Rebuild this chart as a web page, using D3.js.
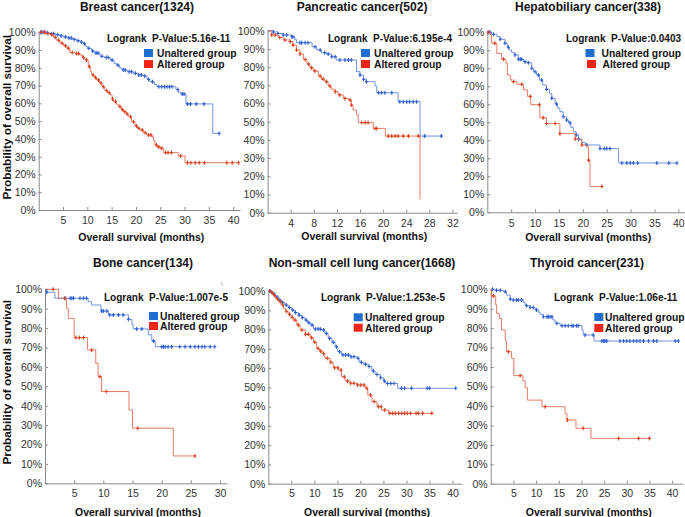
<!DOCTYPE html>
<html><head><meta charset="utf-8">
<script src="https://cdn.jsdelivr.net/npm/d3@7/dist/d3.min.js"></script>
<style>
html,body{margin:0;padding:0;background:#fff;}
svg{display:block;font-family:"Liberation Sans",Arial,sans-serif;}
</style></head>
<body>
<svg id="chart" width="685" height="517"></svg>
<script>
// ---------------- DATA ----------------
const panelTitles = ["Breast cancer(1324)","Pancreatic cancer(502)","Hepatobiliary cancer(338)",
                     "Bone cancer(134)","Non-small cell lung cancer(1668)","Thyroid cancer(231)"];
const pValues = ["5.16e-11","6.195e-4","0.0403","1.007e-5","1.253e-5","1.06e-11"];
const legendLabels = ["Unaltered group","Altered group"];
const yTicks = [0,10,20,30,40,50,60,70,80,90,100];
const xTicks1 = [5,10,15,20,25,30,35,40];
const xTicks2 = [4,8,12,16,20,24,28,32];
const xTicks3 = [5,10,15,20,25,30,35,40];
const xTicks4 = [5,10,15,20,25,30];
const xTicks5 = [5,10,15,20,25,30,35,40];
const xTicks6 = [5,10,15,20,25,30,35,40];

// Breast
const breastUnaltSteps = [[0,100],[1.5,99.6],[2.3,99.2],[3.5,98.6],[4.5,98],[5.1,97.4],[6,96.8],[7,96],[7.8,95.3],[8.5,94.5],[9.2,93.6],[9.7,92],[10,91],[10.9,89.5],[11.5,88.3],[12.6,86.5],[13.5,85.8],[14.7,84.4],[15.5,82.5],[16,81.5],[16.6,80],[17.1,78.8],[18.2,77.8],[19.5,76.9],[20.5,76],[21.5,75.4],[22.3,73.5],[22.9,72.2],[23.8,70.5],[24.3,69.4],[28.2,67.8],[28.7,66.2],[29.2,65.3],[30.3,59.7],[35.8,43.1]];
const breastUnaltEnd = 37.1;
const breastUnaltCensor = [0.4,0.9,1.3,1.8,2.6,3.1,3.9,4.6,5.5,6.2,6.7,7.3,8.1,8.8,9.4,10.3,11.1,11.8,12.2,13,13.9,14.3,15.1,16.3,17.4,17.8,18.6,19.1,19.9,20.6,21.1,21.8,22.6,23.4,24.7,25.3,25.9,26.4,26.9,27.4,28.6,29.5,29.9,30.6,31.2,32.4,34,37.1];
const breastAltSteps = [[0,100],[1.5,99.3],[2.3,98.7],[3,97.2],[3.7,95.5],[4.4,93.8],[5.1,92.5],[5.8,91],[6.4,88.6],[7.5,88],[8.5,87.2],[9,85.8],[9.5,84.4],[10.2,80.7],[10.6,78],[10.9,76],[11.4,74.5],[11.9,73.2],[12.5,71.5],[13,69.4],[13.6,67.2],[14.2,66],[14.7,64.7],[15.1,62.5],[15.4,61],[16,59.5],[16.4,58.2],[17,56.5],[17.4,55.3],[18,54],[18.5,52.5],[19.1,49.7],[19.8,47.3],[20.3,46],[20.8,45],[21.5,43.5],[22.2,42.2],[23.3,41.3],[23.6,39],[23.9,36.6],[24.4,35.5],[25,34.7],[25.7,32.3],[28.7,30.4],[30.1,26.6]];
const breastAltEnd = 41.1;
const breastAltCensor = [0.6,1.2,1.9,2.7,3.4,4.1,4.8,5.5,6.1,6.9,7.8,8.2,9.2,9.8,10.4,11.2,11.7,12.3,12.8,13.3,14,14.5,15.2,15.8,16.7,17.2,17.7,18.2,18.9,19.5,20.1,20.6,21.3,21.9,22.6,23.1,24.2,24.7,25.3,26.1,26.6,27.3,29.2,30.6,31.3,32.2,33,34.1,38.7,39.8,41.1];

// Pancreatic
const pancUnaltSteps = [[0,100],[1,99.3],[1.8,98.5],[2.7,97.6],[4.2,96.7],[4.7,95.2],[5,93.4],[7.7,91.2],[8.5,89.4],[9.3,87.9],[10.2,87.2],[11.1,85.7],[11.9,83.9],[15.4,77.5],[16,75.6],[16.6,73.3],[17.1,72],[18.6,69.6],[18.9,65.9],[22.6,61],[26.4,42.1]];
const pancUnaltEnd = 30.1;
const pancUnaltCensor = [1,1.8,2.7,3.3,4.2,4.4,5.6,5.9,6.5,7,8.2,9.1,9.9,10.5,11.1,11.7,12.5,13.4,14,14.5,16,16.6,17.1,19.2,19.7,20.3,21.5,22.9,23.5,24.1,24.6,25.2,25.8,27.2,30.1];
const pancAltSteps = [[0,100],[0.7,97.6],[1.8,96.3],[2.7,94.9],[3.9,94],[4.4,92.1],[5,89.4],[5.6,87.2],[6.2,84.2],[6.8,81.7],[7.3,79.7],[7.9,77.8],[8.8,75.1],[9.3,73.4],[9.9,72],[10.5,69.6],[11,67.8],[11.7,66.5],[12.2,64.7],[13.1,62.8],[14,61.9],[14.5,59.2],[14.8,56.4],[15.4,53.7],[15.7,49.5],[18.3,46.3],[20.4,42.1],[26.4,7.3]];
const pancAltEnd = 26.4;
const pancAltCensor = [0.7,1.3,2.1,3,3.9,4.4,5,5.6,6.5,7.1,7.6,8.2,9.1,9.6,10.2,10.8,11.7,12.5,13.4,14.3,14.5,16.3,16.9,17.4,18.6,18.9,20.9,21.5,22.1,22.6,23.5,24.4,26.1];

// Hepatobiliary
const hepUnaltSteps = [[0,100],[0.9,98.9],[2,97.6],[2.7,96.1],[3.7,93.9],[4.2,91.7],[4.6,90.2],[5.1,88.7],[5.8,87.4],[6.5,85],[7.6,83.7],[8.3,83.1],[9.3,80],[9.7,78.1],[10.3,76.3],[10.9,73.5],[11.6,70.7],[12.4,68.3],[13,66.1],[13.5,63.3],[14.2,60.2],[14.7,57.8],[15.2,55.9],[15.9,53.1],[16.6,51.3],[17,49.8],[17.5,47.2],[18,44.8],[18.6,43],[19.1,40.6],[19.8,38.7],[20.5,37.4],[23.6,35.4],[27.5,27.4]];
const hepUnaltEnd = 39.7;
const hepUnaltCensor = [0.2,0.6,1.3,2.7,3.7,4.4,5.8,6.5,6.9,7.2,7.9,8.6,9.3,10,10.7,11.4,12.4,13.5,14.5,15.9,16.6,17.3,18.6,19.1,20.8,23.6,24.5,25,25.7,28.2,29.2,29.9,30.6,31.5,35.5,38,39.7];
const hepAltSteps = [[0,100],[0.6,98.5],[0.9,93.9],[2,88.3],[3,85],[3.9,82.8],[4.2,76.3],[4.8,73.9],[5.1,72.6],[6.2,71.1],[7.6,68.1],[8.4,64.4],[9.1,59.8],[11,52.5],[12.4,49.3],[15.2,43.7],[18.4,40.7],[19.8,37.4],[20.8,36.3],[21.2,29],[21.5,14.3]];
const hepAltEnd = 24;
const hepAltCensor = [0.2,1.6,3.4,5.5,7.2,9,10.9,11.7,12.4,14.2,15.2,18.4,19.8,21.2,24];

// Bone
const boneUnaltSteps = [[0,100],[0.3,98.5],[1.7,95.4],[7.4,93.6],[8,91.9],[9.6,88.8],[10.9,86.8],[14.3,84.5],[14.9,81.9],[15.1,79.6],[17.7,76.5],[18.3,73.4],[18.9,70.4]];
const boneUnaltEnd = 29.1;
const boneUnaltCensor = [0.3,3.4,4.3,4.6,4.9,6,6.6,7.1,9.7,10,10.6,11.1,11.7,12.6,13.4,14.3,15.7,16.6,18.6,20,20.3,20.6,21.1,21.7,23.1,24,24.9,25.7,26.3,26.9,27.4,28.3,29.1];
const boneAltSteps = [[0,100],[2.3,95.4],[3.7,90.2],[4,85],[5,75.1],[7.3,68.7],[8.7,61.9],[9.1,55],[9.7,47.3],[14.4,37.8],[15,28.4],[22,14.1]];
const boneAltEnd = 25.7;
const boneAltCensor = [1.4,3.4,5.3,5.9,6.6,8,9.4,10.5,15.9,25.7];

// Non-small cell lung
const lungUnaltSteps = [[0,100],[0.5,99.3],[1.1,98.3],[1.6,96.8],[2.2,95.3],[2.9,94],[3.6,92.7],[4.3,91.4],[5.1,90.1],[5.8,88.8],[6.5,87.5],[7.2,86.2],[8,84.9],[8.5,83.6],[9.1,82.4],[9.8,80.3],[11.6,79.8],[12.3,78],[13,75.4],[13.8,73.4],[14.5,71.1],[15.1,68.5],[15.9,66.8],[17.8,65.9],[19.2,65.1],[19.7,63],[20.7,62],[21.7,60.8],[22.5,58.5],[23.2,56.7],[24.3,55],[25,53.3],[25.5,52],[28.1,49.5]];
const lungUnaltEnd = 40.7;
const lungUnaltCensor = [0.3,0.7,1.3,1.9,2.5,3.1,3.9,4.6,5.3,5.9,6.7,7.4,8.2,8.8,9.5,10.2,10.8,11.3,12,12.6,13.3,14.1,14.8,15.5,16.2,16.8,17.4,18,18.6,19.5,20.2,21.1,21.9,22.8,23.6,24.4,25.2,25.9,26.6,27.3,28.9,29.6,31.1,34.5,35,40.7];
const lungAltSteps = [[0,100],[0.5,99],[1.1,97.6],[1.6,96],[2.2,94.5],[2.8,92.7],[3.3,91],[3.8,89.5],[4.3,87.9],[4.9,86.4],[5.4,84.9],[6.2,82.4],[6.9,79.8],[8,77.5],[9.1,75.8],[9.8,73.4],[10.5,70.2],[11.1,68.8],[11.6,67.6],[12.3,65.1],[13.4,63],[14.1,60.2],[15.2,59],[15.9,55.5],[16.7,53.3],[17.8,52.1],[19.2,51.2],[21,49.5],[21.6,46],[22.5,42.6],[23.6,40],[24.6,38.2],[26.1,36.5]];
const lungAltEnd = 35.5;
const lungAltCensor = [0.4,0.9,1.4,2,2.6,3.2,3.9,4.6,5.2,5.8,6.5,7.3,8.1,8.7,9.4,10.1,10.8,11.4,12,12.8,13.6,14.4,15.1,15.8,16.5,17.2,17.9,18.6,19.4,20.1,20.8,21.4,22.2,23,23.9,24.5,25.3,26.4,27,27.6,28.3,29,29.6,30.2,30.9,32.1,32.6,33.5,35.5];

// Thyroid
const thyUnaltSteps = [[0,100],[0.9,99.5],[2.8,98.8],[3.5,97],[4.3,95],[4.6,94.5],[7.2,93.3],[7.6,91.6],[8.7,90.6],[9.8,89.4],[10.5,88.2],[10.9,87.1],[11.6,85.9],[13.7,84.2],[14.2,82.5],[15.3,81.3],[20.1,79.1],[20.4,76.5],[22.8,73.4]];
const thyUnaltEnd = 41.4;
const thyUnaltCensor = [0.4,1.3,2.1,3.2,4.3,5,5.7,6.1,6.8,7.9,8.7,9.4,10.1,11.6,12.4,12.7,13.1,13.5,14.6,15.7,16.4,17.1,17.9,18.2,18.9,19.3,20.8,22.6,24.5,24.9,25.2,25.6,28.5,29.3,30,30.7,31.5,32.2,32.9,33.7,34.8,35.9,36.6,40.7,41.4];
const thyAltSteps = [[0,100],[0.2,96.6],[1.1,92],[1.3,87.6],[1.9,85],[2.4,79.1],[3.2,73.4],[3.5,67.9],[4.6,64.5],[5.1,55.6],[7.1,52.8],[7.6,49.4],[8.1,43],[11.3,39.6],[16.4,36.2],[16.8,32.8],[18.8,28.5],[22.1,23.3]];
const thyAltEnd = 35;
const thyAltCensor = [0.6,3.9,6.5,12,16.9,20.4,28.2,32.6,35];

// ---------------- LAYOUT (positions only) ----------------
const frames = [
 {x0:38.7, x1:240, yT:32.3, yB:210, xmax:41.4, tX:137, tY:10.5, lrX:107, lrY:41.5, sqX:[144,144], txX:[157,157], legY:[53,64], axY:241},
 {x0:267.6,x1:457, yT:30.7, yB:212.7,xmax:32.8, tX:362, tY:10.5, lrX:328, lrY:41.5, sqX:[361,361], txX:[374,374], legY:[53,64], axY:240},
 {x0:487.3,x1:685, yT:32.3, yB:212.3,xmax:41.4, tX:588, tY:10.5, lrX:566, lrY:41.5, sqX:[585.5,587], txX:[601.5,602.5], legY:[53,64], axY:241},
 {x0:45,   x1:227, yT:289.3,yB:483.3,xmax:31.2, tX:143, tY:267, lrX:104, lrY:301, sqX:[149,149], txX:[160,160], legY:[316,326], axY:516},
 {x0:268.3,x1:461.7,yT:291, yB:483.7,xmax:42, tX:362, tY:267, lrX:321, lrY:301, sqX:[353.7,353.7], txX:[365,365], legY:[317.3,327.7], axY:516},
 {x0:490.7,x1:683, yT:289.3,yB:483.7,xmax:42.4, tX:587, tY:267, lrX:554, lrY:300.5, sqX:[594.3,594.3], txX:[605,605], legY:[317,328], axY:516}
];
const xTickSets = [xTicks1,xTicks2,xTicks3,xTicks4,xTicks5,xTicks6];
const curves = [
 [{s:breastUnaltSteps,e:breastUnaltEnd,c:breastUnaltCensor},{s:breastAltSteps,e:breastAltEnd,c:breastAltCensor}],
 [{s:pancUnaltSteps,e:pancUnaltEnd,c:pancUnaltCensor},{s:pancAltSteps,e:pancAltEnd,c:pancAltCensor}],
 [{s:hepUnaltSteps,e:hepUnaltEnd,c:hepUnaltCensor},{s:hepAltSteps,e:hepAltEnd,c:hepAltCensor}],
 [{s:boneUnaltSteps,e:boneUnaltEnd,c:boneUnaltCensor},{s:boneAltSteps,e:boneAltEnd,c:boneAltCensor}],
 [{s:lungUnaltSteps,e:lungUnaltEnd,c:lungUnaltCensor},{s:lungAltSteps,e:lungAltEnd,c:lungAltCensor}],
 [{s:thyUnaltSteps,e:thyUnaltEnd,c:thyUnaltCensor},{s:thyAltSteps,e:thyAltEnd,c:thyAltCensor}]
];
const lineColors = ["#5b80dc","#e2664a"];
const markColors = ["#2f5fd0","#d9421f"];
const legendColors = ["#1f6fd0","#ee2418"];

const svg = d3.select("#chart");

frames.forEach((f,i)=>{
  const g = svg.append("g");
  const x = d3.scaleLinear().domain([0,f.xmax]).range([f.x0,f.x1]);
  const y = d3.scaleLinear().domain([0,100]).range([f.yB,f.yT]);

  // axes
  const xa = g.append("g").attr("transform",`translate(0,${f.yB})`)
    .call(d3.axisBottom(x).tickValues(xTickSets[i]).tickSizeInner(-3).tickSizeOuter(0).tickPadding(i<3?7:6));
  const ya = g.append("g").attr("transform",`translate(${f.x0},0)`)
    .call(d3.axisLeft(y).tickValues(yTicks).tickFormat(d=>d+"%").tickSizeInner(-3).tickSizeOuter(0).tickPadding(3));
  [xa,ya].forEach(a=>{
    a.select(".domain").attr("stroke","#8a8a8a").attr("stroke-width",1);
    a.selectAll(".tick line").attr("stroke","#8a8a8a");
    a.selectAll(".tick text").attr("fill","#333").attr("font-size","10.5px")
      .attr("font-family","'Liberation Sans',Arial,sans-serif");
  });

  // curves
  const line = d3.line().x(d=>x(d[0])).y(d=>y(d[1])).curve(d3.curveStepAfter);
  curves[i].forEach((cv,k)=>{
    const pts = cv.s.concat([[cv.e, cv.s[cv.s.length-1][1]]]);
    g.append("path").attr("d",line(pts)).attr("fill","none")
      .attr("stroke",lineColors[k]).attr("stroke-width",1).attr("opacity",0.85);
    const surv = t => { let v=100; cv.s.forEach(p=>{ if(p[0]<=t) v=p[1]; }); return v; };
    g.append("g").selectAll("path").data(cv.c).join("path")
      .attr("d",t=>{const cx=x(t), cy=y(surv(t)); return `M${cx-1.5},${cy}H${cx+1.5}M${cx},${cy-2}V${cy+2}`;})
      .attr("stroke",markColors[k]).attr("stroke-width",1.1).attr("fill","none");
  });

  // title
  g.append("text").attr("x",f.tX).attr("y",f.tY).attr("text-anchor","middle")
    .attr("font-size","12px").attr("font-weight","bold").attr("fill","#111").text(panelTitles[i]);
  // logrank
  g.append("text").attr("x",f.lrX).attr("y",f.lrY).attr("font-size","10px").attr("font-weight","bold")
    .attr("fill","#111").attr("xml:space","preserve").style("white-space","pre").text("Logrank  P-Value:"+pValues[i]);
  // legend
  legendLabels.forEach((lab,k)=>{
    g.append("rect").attr("x",f.sqX[k]).attr("y",f.legY[k]-4).attr("width",9).attr("height",8).attr("fill",legendColors[k]);
    g.append("text").attr("x",f.txX[k]).attr("y",f.legY[k]+3.8).attr("font-size","10.3px").attr("font-weight","bold")
      .attr("fill","#111").text(lab);
  });
  // x axis title
  g.append("text").attr("x",(f.x0+f.x1)/2+2).attr("y",f.axY).attr("text-anchor","middle")
    .attr("font-size","10.5px").attr("font-weight","bold").attr("fill","#111").text("Overall survival (months)");
  // y axis title (first column only)
  if(i===0||i===3){
    g.append("text").attr("transform",`translate(10.5,${(f.yT+f.yB)/2-4}) rotate(-90)`).attr("text-anchor","middle")
      .attr("font-size","11.8px").attr("font-weight","bold").attr("fill","#111").text("Probability of overall survival");
  }
});
// small stray glyph present in the original figure
svg.append("text").attr("x",221).attr("y",285).attr("font-size","5px").attr("fill","#999").text("L");
</script>
</body></html>
